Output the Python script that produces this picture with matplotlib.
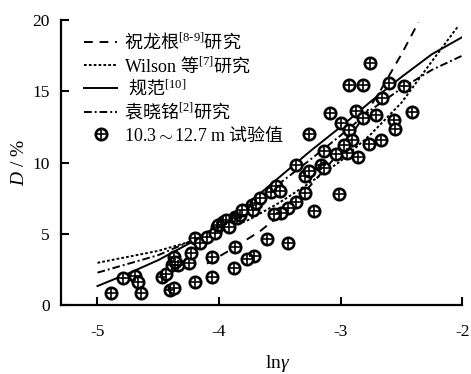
import matplotlib
matplotlib.use('Agg')
import matplotlib.pyplot as plt
from matplotlib.legend_handler import HandlerTuple

plt.rcParams['font.family'] = ['Liberation Serif', 'Noto Sans CJK SC']
plt.rcParams['mathtext.fontset'] = 'custom'
plt.rcParams['mathtext.rm'] = 'Liberation Serif'
plt.rcParams['mathtext.it'] = 'Liberation Serif:italic'
plt.rcParams['axes.unicode_minus'] = False

# 试验值: lnγ 与阻尼比 D (%)
test_lng = [-4.89, -4.79, -4.69, -4.67, -4.64, -4.47, -4.44, -4.40, -4.37, -4.37,
            -4.39, -4.34, -4.36, -4.25, -4.23, -4.20, -4.20, -4.16, -4.10, -4.06,
            -4.06, -4.02, -4.03, -4.01, -3.97, -3.94, -3.92, -3.87, -3.85, -3.83,
            -3.81, -3.73, -3.72, -3.70, -3.66, -3.57, -3.53, -3.50, -3.37, -3.29,
            -3.26, -3.16, -3.14, -3.14, -3.04, -2.95, -2.86, -3.29, -3.01, -3.37,
            -3.22, -3.43, -3.49, -3.55, -3.61, -3.43, -3.87, -3.71, -3.77, -3.88,
            -3.26, -3.09, -3.00, -2.93, -2.91, -2.97, -2.87, -2.82, -2.71, -2.77,
            -2.67, -2.76, -2.93, -2.82, -2.60, -2.48, -2.66, -2.41, -2.56, -2.55]
test_d = [0.82, 1.87, 2.03, 1.63, 0.82, 1.98, 2.17, 1.05, 1.21, 3.34,
          2.80, 2.80, 3.03, 2.96, 3.67, 1.63, 4.67, 4.37, 4.74, 3.38,
          1.98, 5.49, 5.02, 5.61, 5.84, 5.96, 5.49, 6.19, 6.08, 6.31,
          6.66, 7.01, 6.66, 7.13, 7.52, 7.94, 8.34, 8.01, 9.81, 9.04,
          9.41, 9.81, 9.58, 10.81, 10.63, 10.67, 10.39, 7.83, 7.78, 7.24,
          6.61, 6.78, 6.47, 6.41, 4.60, 4.34, 4.04, 3.43, 3.20, 2.57,
          12.03, 13.50, 12.80, 12.31, 11.56, 11.26, 13.60, 13.15, 13.36, 11.28,
          11.61, 16.98, 15.42, 15.42, 15.58, 15.38, 14.53, 13.53, 12.96, 12.38]

# 祝龙根
zhu_lng = [-4.10, -3.90, -3.66, -3.50, -3.33, -3.00, -2.69, -2.50, -2.36]
zhu_d = [2.9, 3.9, 5.2, 6.3, 7.6, 10.8, 14.8, 17.6, 19.85]

# Wilson
wil_lng = [-5.00, -4.50, -4.24, -4.00, -3.75, -3.50, -3.25, -3.00, -2.75, -2.50, -2.25, -2.04]
wil_d = [2.96, 3.8, 4.44, 5.1, 6.0, 7.2, 8.6, 10.1, 12.0, 14.2, 17.1, 19.5]

# 规范
gf_lng = [-5.00, -4.75, -4.50, -4.25, -4.00, -3.75, -3.50, -3.25, -3.00, -2.75, -2.50, -2.25, -2.00]
gf_d = [1.33, 2.2, 3.15, 4.3, 5.6, 7.2, 9.0, 10.8, 12.5, 14.3, 16.0, 17.6, 18.8]

# 袁晓铭
yuan_lng = [-5.00, -4.50, -4.20, -4.00, -3.75, -3.50, -3.25, -3.00, -2.75, -2.50, -2.25, -2.00]
yuan_d = [2.27, 3.5, 4.6, 5.5, 7.0, 8.55, 10.2, 11.9, 13.7, 15.2, 16.5, 17.5]

fig = plt.figure(figsize=(4.71, 3.74), dpi=100)
ax = fig.add_axes([0.1295, 0.1845, 0.852, 0.762])

lw = 1.4
l1, = ax.plot(zhu_lng, zhu_d, color='black', lw=lw, linestyle=(0, (4.5, 3.5)))
l2, = ax.plot(wil_lng, wil_d, color='black', lw=lw, linestyle=(0, (1.4, 1.1)))
l3, = ax.plot(gf_lng, gf_d, color='black', lw=lw, linestyle='-')
l4, = ax.plot(yuan_lng, yuan_d, color='black', lw=lw, linestyle=(0, (4, 1.5, 1, 1.5)))

ring, = ax.plot(test_lng, test_d, linestyle='none', marker='o', markersize=8.2,
                markerfacecolor='white', markeredgecolor='black', markeredgewidth=1.9)
cross, = ax.plot(test_lng, test_d, linestyle='none', marker='+', markersize=7.6,
                 markeredgecolor='black', markeredgewidth=1.2)

labels = [r'祝龙根$^{[8\text{-}9]}$研究',
          r'$\mathrm{Wilson}$ 等$^{[7]}$研究',
          r' 规范$^{[10]}$',
          r'袁晓铭$^{[2]}$研究',
          r'$\mathrm{10.3} \sim \mathrm{12.7\ m}$ 试验值']
leg = ax.legend([l1, l2, l3, l4, (ring, cross)], labels,
                handler_map={tuple: HandlerTuple(ndivide=1)},
                loc='upper left', bbox_to_anchor=(0.04, 0.985), frameon=False,
                prop={'family': ['Noto Sans CJK SC'], 'size': 13},
                handlelength=1.8, handletextpad=0.4, labelspacing=0.15,
                borderaxespad=0.0, numpoints=1)

ax.set_xlim(-5.3, -2)
ax.set_ylim(0, 20)
ax.set_xticks([-5, -4, -3, -2])
ax.set_yticks([0, 5, 10, 15, 20])

for side in ['top', 'right']:
    ax.spines[side].set_visible(False)
for side in ['left', 'bottom']:
    ax.spines[side].set_linewidth(1.6)

ax.tick_params(direction='in', length=6, width=1.5, labelsize=12.5, pad=8)
ax.tick_params(axis='x', pad=14)
for t in ax.get_xticklabels() + ax.get_yticklabels():
    t.set_fontfamily('Liberation Serif')

ax.set_xlabel(r'$\mathrm{ln}\gamma$', fontsize=14)
ax.xaxis.set_label_coords(0.54, -0.17)
ax.set_ylabel(r'$D$ / %', fontsize=14, labelpad=3)

fig.savefig('out.png', dpi=100)
